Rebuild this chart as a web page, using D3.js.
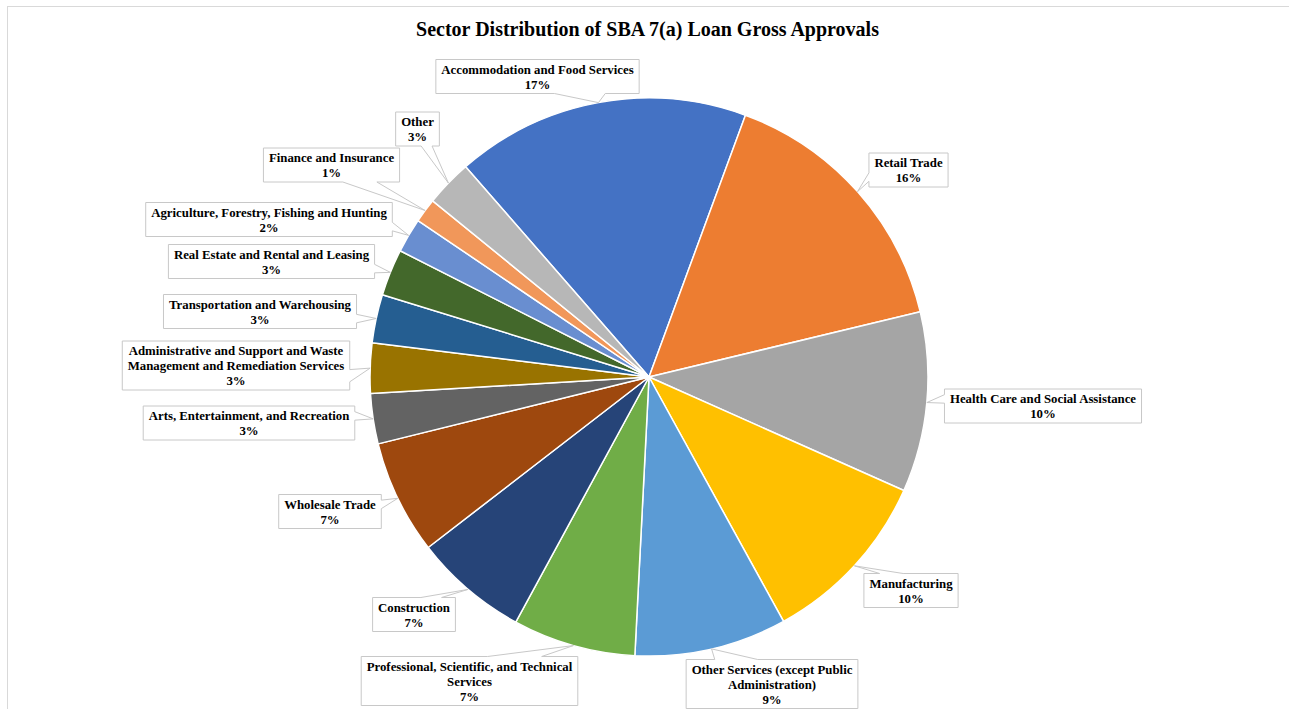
<!DOCTYPE html>
<html>
<head>
<meta charset="utf-8">
<script src="https://cdn.jsdelivr.net/npm/d3@7"></script>
<style>
  html, body { margin: 0; padding: 0; background: #fff; }
  svg { display: block; }
</style>
</head>
<body>
<svg id="chart" width="1289" height="709"></svg>
<script>
// ---------- data ----------
const title = "Sector Distribution of SBA 7(a) Loan Gross Approvals";
const sectors = [
  "Accommodation and Food Services",
  "Retail Trade",
  "Health Care and Social Assistance",
  "Manufacturing",
  "Other Services (except Public Administration)",
  "Professional, Scientific, and Technical Services",
  "Construction",
  "Wholesale Trade",
  "Arts, Entertainment, and Recreation",
  "Administrative and Support and Waste Management and Remediation Services",
  "Transportation and Warehousing",
  "Real Estate and Rental and Leasing",
  "Agriculture, Forestry, Fishing and Hunting",
  "Finance and Insurance",
  "Other"
];
const shares = [17.0, 15.6, 10.4, 10.3, 8.8, 7.1, 6.6, 6.6, 2.9, 2.9, 2.8, 2.7, 2.0, 1.4, 2.7];
// how each label's name is broken into lines
const labelLines = [
  ["Accommodation and Food Services"],
  ["Retail Trade"],
  ["Health Care and Social Assistance"],
  ["Manufacturing"],
  ["Other Services (except Public", "Administration)"],
  ["Professional, Scientific, and Technical", "Services"],
  ["Construction"],
  ["Wholesale Trade"],
  ["Arts, Entertainment, and Recreation"],
  ["Administrative and Support and Waste", "Management and Remediation Services"],
  ["Transportation and Warehousing"],
  ["Real Estate and Rental and Leasing"],
  ["Agriculture, Forestry, Fishing and Hunting"],
  ["Finance and Insurance"],
  ["Other"]
];
const colors = ["#4472C4","#ED7D31","#A5A5A5","#FFC000","#5B9BD5","#70AD47","#264478",
                "#9E480E","#636363","#997300","#255E91","#43682B","#698ED0","#F1975A","#B7B7B7"];

// ---------- layout ----------
const W = 1289, H = 709;
const cx = 649, cy = 377, R = 279;
const startDeg = -41.1;
// label box centres, as offsets from the pie centre
const labelOffsets = [
  [-111.5,-300.5],[259.5,-207],[394,29],[262,213.5],[123,307],[-179.5,304],[-235,237.5],
  [-319,134.5],[-400,46],[-413,-11.5],[-389,-65.5],[-377.5,-115.5],[-380,-157.5],[-317.5,-212],[-231.5,-248]
];
const FONT = "'Liberation Serif','Times New Roman',serif";
const labelSize = 12.8, lineH = 15;

const svg = d3.select("#chart");

// chart frame
svg.append("rect").attr("x", 7.5).attr("y", 6.5).attr("width", 1400).attr("height", 800)
  .attr("fill", "#fff").attr("stroke", "#d9d9d9").attr("stroke-width", 1);

// title
svg.append("text").attr("x", 647.5).attr("y", 35.5).attr("text-anchor", "middle")
  .attr("font-family", FONT).attr("font-weight", "bold").attr("font-size", 20)
  .attr("fill", "#000").text(title);

const data = sectors.map((s, i) => ({ name: s, value: shares[i], lines: labelLines[i], color: colors[i], off: labelOffsets[i] }));
const total = d3.sum(shares);
const pct = d3.format(".0%");

const a0 = startDeg * Math.PI / 180;
const pie = d3.pie().sort(null).value(d => d.value).startAngle(a0).endAngle(a0 + 2 * Math.PI);
const arcs = pie(data);
const arc = d3.arc().innerRadius(0).outerRadius(R);
const edge = d3.arc().innerRadius(R).outerRadius(R);

const g = svg.append("g").attr("transform", `translate(${cx},${cy})`);
g.selectAll("path.slice").data(arcs).join("path")
  .attr("class", "slice")
  .attr("d", arc)
  .attr("fill", d => d.data.color)
  .attr("stroke", "#fff").attr("stroke-width", 1.5).attr("stroke-linejoin", "round");

// callout labels
const lg = g.append("g");
arcs.forEach(d => {
  const lines = d.data.lines.concat([pct(d.data.value / total)]);
  const grp = lg.append("g");
  const path = grp.append("path");
  const txt = grp.append("text").attr("font-family", FONT).attr("font-weight", "bold")
    .attr("font-size", labelSize).attr("fill", "#000").attr("text-anchor", "middle");
  lines.forEach((l, i) => txt.append("tspan").attr("x", 0).attr("dy", i === 0 ? 0 : lineH).text(l));
  let tw = 0;
  txt.selectAll("tspan").each(function () { tw = Math.max(tw, this.getComputedTextLength()); });
  const w = tw + 11, h = lines.length * lineH + 4;
  const [hc, vc] = d.data.off;
  const l = hc - w / 2, t = vc - h / 2, r = hc + w / 2, b = vc + h / 2;
  txt.attr("transform", `translate(${hc},${t + 14.2})`);
  const [tx, ty] = edge.centroid(d);
  // wedge rectangle callout (OOXML wedgeRectCallout geometry)
  const dxPos = tx - hc, dyPos = ty - vc;
  const dq = dxPos * h / w;
  const dz = Math.abs(dyPos) - Math.abs(dq);
  const x1 = l + w * (dxPos > 0 ? 7 : 2) / 12, x2 = l + w * (dxPos > 0 ? 10 : 5) / 12;
  const y1 = t + h * (dyPos > 0 ? 7 : 2) / 12, y2 = t + h * (dyPos > 0 ? 10 : 5) / 12;
  const inside = tx > l && tx < r && ty > t && ty < b;
  let p = `M${l},${t}`;
  if (!inside && dz > 0 && dyPos < 0) p += `L${x1},${t}L${tx},${ty}L${x2},${t}`;
  p += `L${r},${t}`;
  if (!inside && dz <= 0 && dxPos > 0) p += `L${r},${y1}L${tx},${ty}L${r},${y2}`;
  p += `L${r},${b}`;
  if (!inside && dz > 0 && dyPos > 0) p += `L${x2},${b}L${tx},${ty}L${x1},${b}`;
  p += `L${l},${b}`;
  if (!inside && dz <= 0 && dxPos < 0) p += `L${l},${y2}L${tx},${ty}L${l},${y1}`;
  p += "Z";
  path.attr("d", p).attr("fill", "#fff").attr("stroke", "#c8c8c8").attr("stroke-width", 1);
});
</script>
</body>
</html>
